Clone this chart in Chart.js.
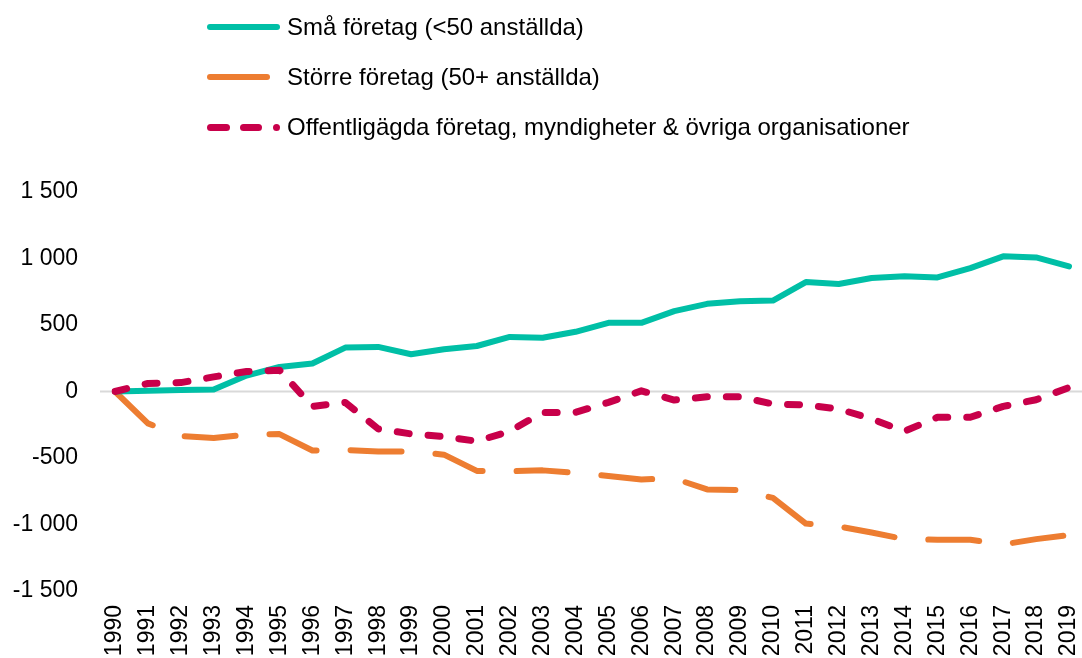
<!DOCTYPE html>
<html><head><meta charset="utf-8">
<script src="https://cdn.jsdelivr.net/npm/chart.js@4"></script>
<style>
html,body{margin:0;padding:0;background:#fff;}
#wrap{position:relative;width:1082px;height:658px;}
canvas{position:absolute;left:0;top:0;}
.lg{position:absolute;font-family:"Liberation Sans",Arial,sans-serif;font-size:24px;color:#000;line-height:30px;white-space:nowrap;}
.sym{position:absolute;border-radius:4px;}
</style></head>
<body>
<div id="wrap">
<canvas id="c" width="1082" height="658"></canvas>
<div id="legend"></div>
</div>
<script>
const years = ['1990','1991','1992','1993','1994','1995','1996','1997','1998','1999','2000','2001','2002','2003','2004','2005','2006','2007','2008','2009','2010','2011','2012','2013','2014','2015','2016','2017','2018','2019'];
const smallFirms = [0,5,12,15,120,185,210,330,335,280,317,342,410,404,449,516,516,604,659,679,684,823,808,853,866,858,928,1016,1008,941];
const largeFirms = [0,-240,-335,-350,-325,-320,-444,-440,-451,-451,-475,-597,-600,-593,-611,-635,-661,-654,-736,-741,-800,-993,-1015,-1060,-1110,-1115,-1115,-1150,-1110,-1080];
const publicOrgs = [0,60,67,110,150,160,-112,-82,-281,-319,-339,-374,-299,-157,-157,-82,5,-64,-40,-40,-94,-101,-131,-206,-299,-194,-194,-112,-62,30];
const yTicks = [-1500,-1000,-500,0,500,1000,1500];
const seriesNames = ['Små företag (<50 anställda)','Större företag (50+ anställda)','Offentligägda företag, myndigheter & övriga organisationer'];
const colors = ['#00BFA6','#ED7D31','#C8004A'];

function fmt(v){
  const s = Math.abs(v).toString().replace(/\B(?=(\d{3})+(?!\d))/g,' ');
  return (v<0?'-':'')+s;
}

// HTML legend
const lg = document.getElementById('legend');
const rowsY = [27,76.5,127];
const syms = [
  [[207,73]],
  [[207,63]],
  [[207,23],[240,22],[273,7]]
];
seriesNames.forEach((n,i)=>{
  syms[i].forEach(([x,w])=>{
    const d=document.createElement('div');d.className='sym';
    const h = i===2?7:6;
    d.style.left=x+'px';d.style.width=w+'px';d.style.height=h+'px';d.style.top=(rowsY[i]-h/2)+'px';d.style.background=colors[i];
    lg.appendChild(d);
  });
  const t=document.createElement('div');t.className='lg';t.textContent=n;
  t.style.left='287px';t.style.top=(rowsY[i]-15)+'px';
  lg.appendChild(t);
});

const zeroLine = {
  id:'zeroLine',
  beforeDatasetsDraw(chart){
    const y = chart.scales.y.getPixelForValue(0);
    const ctx = chart.ctx;
    ctx.save();
    ctx.strokeStyle='#D9D9D9';ctx.lineWidth=2;
    ctx.beginPath();ctx.moveTo(chart.chartArea.left-15,y);ctx.lineTo(chart.width,y);ctx.stroke();
    ctx.restore();
  }
};

const font = {family:'"Liberation Sans", Arial, sans-serif', size:23};
new Chart(document.getElementById('c'),{
  type:'line',
  data:{labels:years,datasets:[
    {label:seriesNames[0],data:smallFirms,borderColor:colors[0],borderWidth:6,pointRadius:0,tension:0,order:1,borderCapStyle:'round',borderJoinStyle:'round'},
    {label:seriesNames[1],data:largeFirms,borderColor:colors[1],borderWidth:6,pointRadius:0,tension:0,order:2,borderDash:[51,34],borderCapStyle:'round',borderJoinStyle:'round'},
    {label:seriesNames[2],data:publicOrgs,borderColor:colors[2],borderWidth:7,pointRadius:0,tension:0,order:0,borderDash:[12,19],borderCapStyle:'round',borderJoinStyle:'round'}
  ]},
  options:{
    responsive:false,animation:false,
    layout:{padding:{top:192,right:13,left:0,bottom:0}},
    plugins:{legend:{display:false},tooltip:{enabled:false}},
    scales:{
      x:{offset:false,grid:{display:false,drawTicks:false},border:{display:false},
         afterFit(s){s.height=67;s.paddingLeft=0;s.paddingRight=0;},
         ticks:{color:'#000',font:font,minRotation:90,maxRotation:90,padding:14,autoSkip:false}},
      y:{min:-1500,max:1500,grid:{display:false,drawTicks:false},border:{display:false},
         afterBuildTicks(s){s.ticks=yTicks.map(v=>({value:v}));},
         afterFit(s){s.width=115;s.paddingTop=0;s.paddingBottom=0;},
         ticks:{color:'#000',font:font,padding:37,callback:v=>fmt(v)}}
    }
  },
  plugins:[zeroLine]
});
</script>
</body></html>
